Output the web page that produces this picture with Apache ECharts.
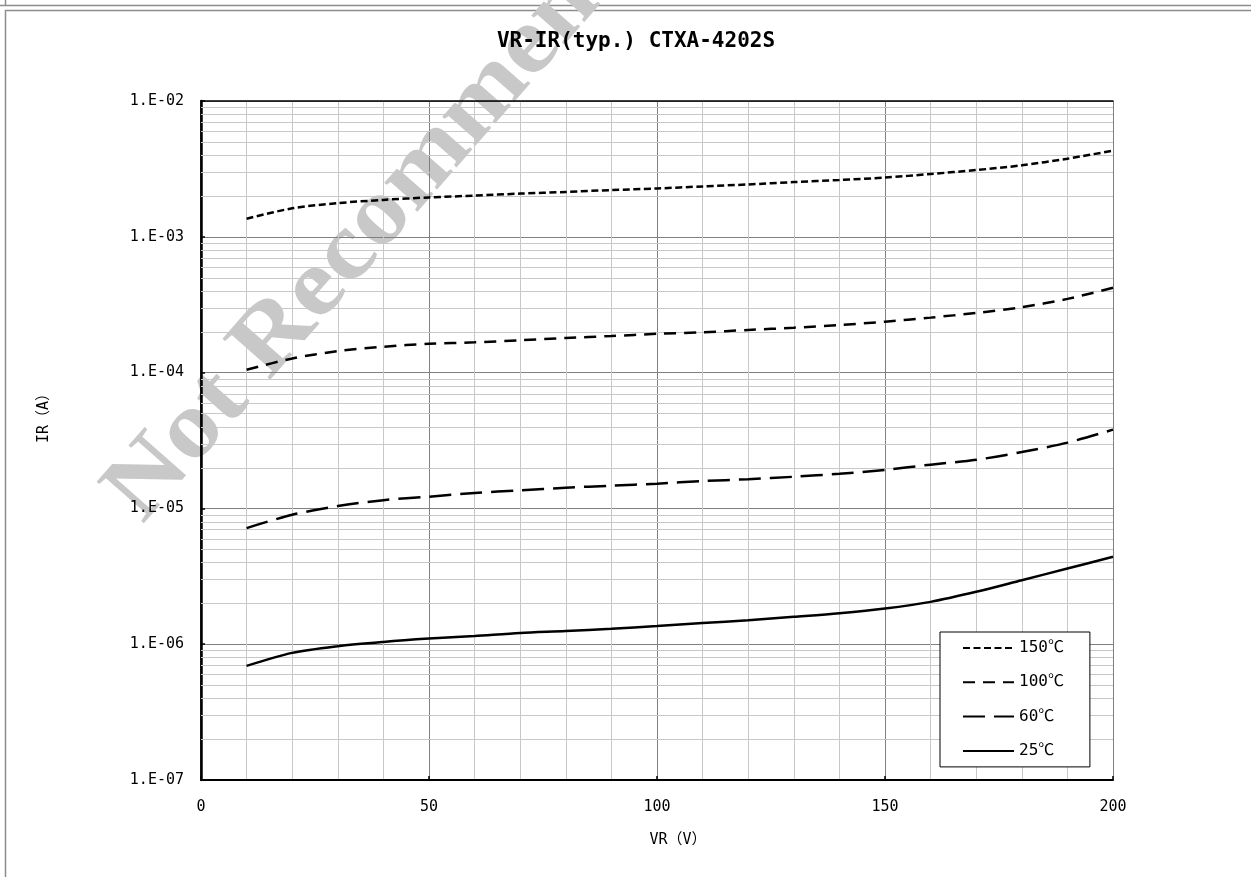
<!DOCTYPE html>
<html>
<head>
<meta charset="utf-8">
<script src="https://cdn.jsdelivr.net/npm/echarts@6/dist/echarts.min.js"></script>
<style>
html, body { margin: 0; padding: 0; background: #fff; }
#chart { width: 1251px; height: 877px; }
</style>
</head>
<body>
<div id="chart"></div>
<script>
// reverse voltage (V)
const voltages = [10, 20, 30, 40, 50, 60, 70, 80, 90, 100, 110, 120, 130, 140, 150, 160, 170, 180, 190, 200];
// reverse current (A)
const ir150 = [1.36e-3, 1.62e-3, 1.77e-3, 1.87e-3, 1.95e-3, 2.01e-3, 2.08e-3, 2.14e-3, 2.21e-3, 2.27e-3,
               2.35e-3, 2.43e-3, 2.53e-3, 2.62e-3, 2.73e-3, 2.90e-3, 3.10e-3, 3.36e-3, 3.76e-3, 4.31e-3];
const ir100 = [1.05e-4, 1.27e-4, 1.44e-4, 1.55e-4, 1.63e-4, 1.67e-4, 1.73e-4, 1.80e-4, 1.86e-4, 1.93e-4,
               1.98e-4, 2.06e-4, 2.14e-4, 2.24e-4, 2.37e-4, 2.54e-4, 2.75e-4, 3.03e-4, 3.49e-4, 4.21e-4];
const ir60  = [7.16e-6, 8.98e-6, 1.04e-5, 1.15e-5, 1.22e-5, 1.30e-5, 1.36e-5, 1.42e-5, 1.47e-5, 1.52e-5,
               1.59e-5, 1.64e-5, 1.71e-5, 1.80e-5, 1.92e-5, 2.10e-5, 2.28e-5, 2.60e-5, 3.05e-5, 3.80e-5];
const ir25  = [6.92e-7, 8.63e-7, 9.67e-7, 1.04e-6, 1.10e-6, 1.15e-6, 1.21e-6, 1.25e-6, 1.30e-6, 1.36e-6,
               1.43e-6, 1.50e-6, 1.59e-6, 1.69e-6, 1.83e-6, 2.05e-6, 2.43e-6, 2.96e-6, 3.61e-6, 4.40e-6];

const seriesNames = ['150℃', '100℃', '60℃', '25℃'];
const yTickLabels = ['1.E-07', '1.E-06', '1.E-05', '1.E-04', '1.E-03', '1.E-02'];

const monoFont = '"DejaVu Sans Mono", "Noto Sans CJK JP", sans-serif';

// light grid lines at 2..9 of every decade
const minorY = [];
for (let e = -7; e < -2; e++) {
    for (let k = 2; k <= 9; k++) minorY.push(k * Math.pow(10, e));
}

function pairs(values) {
    return voltages.map((v, i) => [v, values[i]]);
}

function curve(name, values, dash) {
    return {
        name: name,
        type: 'line',
        smooth: 0.3,
        symbol: 'none',
        z: 3,
        lineStyle: { color: '#000', width: 2.5, type: dash },
        itemStyle: { color: '#000' },
        data: pairs(values)
    };
}

chartElement = document.getElementById('chart');
let chart = echarts.init(chartElement);

let option = {
    animation: false,
    backgroundColor: '#fff',
    title: {
        text: 'VR-IR(typ.) CTXA-4202S',
        left: 636,
        top: 31,
        padding: 0,
        textAlign: 'center',
        textStyle: { fontFamily: monoFont, fontWeight: 'bold', fontSize: 21, color: '#000' }
    },
    legend: {
        data: seriesNames,
        orient: 'vertical',
        left: 940,
        top: 632,
        padding: [8, 26, 8, 22],
        itemWidth: 51,
        itemHeight: 14,
        itemGap: 18.3,
        borderColor: '#000',
        borderWidth: 1,
        borderRadius: 0,
        backgroundColor: '#fff',
        itemStyle: { color: 'rgba(0,0,0,0)', borderWidth: 0, opacity: 0 },
        textStyle: { fontFamily: monoFont, fontSize: 16, color: '#000' }
    },
    grid: { left: 201, top: 101, right: 138, bottom: 97 },
    xAxis: [
        {
            type: 'value',
            min: 0,
            max: 200,
            interval: 50,
            name: 'VR（V）',
            nameLocation: 'middle',
            nameGap: 53,
            nameTextStyle: { fontFamily: monoFont, fontSize: 15, color: '#000', padding: [0, 0, 0, 42] },
            axisLine: { show: true, lineStyle: { color: '#000', width: 2 } },
            axisTick: { show: true, inside: true, length: 4, lineStyle: { color: '#000', width: 1.5 } },
            axisLabel: { margin: 20, fontFamily: monoFont, fontSize: 15, color: '#000' },
            splitLine: { show: true, lineStyle: { color: '#808080', width: 1 } },
            minorTick: { show: false, splitNumber: 5 },
            minorSplitLine: { show: true, lineStyle: { color: '#c8c8c8', width: 1 } }
        },
        {
            type: 'value',
            position: 'top',
            min: 0,
            max: 200,
            interval: 50,
            axisLine: { show: true, lineStyle: { color: '#000', width: 1.5 } },
            axisTick: { show: false },
            axisLabel: { show: false },
            splitLine: { show: false }
        }
    ],
    yAxis: [
        {
            type: 'log',
            logBase: 10,
            min: 1e-7,
            max: 1e-2,
            name: 'IR（A）',
            nameLocation: 'middle',
            nameGap: 149,
            nameRotate: 90,
            nameTextStyle: { fontFamily: monoFont, fontSize: 15, color: '#000', padding: [0, 0, 0, 52] },
            axisLine: { show: true, lineStyle: { color: '#000', width: 2.5 } },
            axisTick: { show: true, inside: true, length: 4, lineStyle: { color: '#000', width: 1.5 } },
            axisLabel: {
                margin: 17,
                fontFamily: monoFont,
                fontSize: 15,
                color: '#000',
                formatter: function (value) {
                    return yTickLabels[Math.round(Math.log10(value)) + 7];
                }
            },
            splitLine: { show: true, lineStyle: { color: '#808080', width: 1 } }
        },
        {
            type: 'log',
            logBase: 10,
            position: 'right',
            min: 1e-7,
            max: 1e-2,
            axisLine: { show: true, lineStyle: { color: '#000', width: 1.5 } },
            axisTick: { show: false },
            axisLabel: { show: false },
            splitLine: { show: false }
        }
    ],
    graphic: [
        // outer sheet frames
        { type: 'line', z: -20, shape: { x1: 0, y1: 5.5, x2: 1251, y2: 5.5 }, style: { stroke: '#8c8c8c', lineWidth: 1.5 } },
        { type: 'line', z: -20, shape: { x1: 5.5, y1: 0, x2: 5.5, y2: 5.5 }, style: { stroke: '#8c8c8c', lineWidth: 1.5 } },
        { type: 'rect', z: -20, shape: { x: 5.5, y: 10.5, width: 1300, height: 900 }, style: { fill: null, stroke: '#8c8c8c', lineWidth: 1.5 } },
        // watermark
        {
            type: 'text',
            z: -10,
            silent: true,
            x: 160,
            y: 540,
            rotation: 0.85,
            scaleX: 1.1,
            style: {
                text: 'Not Recommended for New Design',
                fill: '#c8c8c8',
                fontFamily: '"Liberation Serif", serif',
                fontWeight: 'bold',
                fontSize: 96,
                textAlign: 'left',
                textVerticalAlign: 'bottom'
            }
        }
    ],
    series: [
        {
            // light grid lines inside each decade
            name: 'grid',
            type: 'custom',
            z: 1,
            silent: true,
            data: minorY.map(v => [0, v]),
            renderItem: function (params, api) {
                const y = Math.round(api.coord([0, api.value(1)])[1]) + 0.5;
                const cs = params.coordSys;
                return {
                    type: 'line',
                    shape: { x1: cs.x, y1: y, x2: cs.x + cs.width, y2: y },
                    style: { stroke: '#c8c8c8', lineWidth: 1 }
                };
            }
        },
        curve(seriesNames[0], ir150, [7, 3.5]),
        curve(seriesNames[1], ir100, [12, 8]),
        curve(seriesNames[2], ir60, [22, 9]),
        curve(seriesNames[3], ir25, 'solid')
    ]
};

chart.setOption(option);
</script>
</body>
</html>
